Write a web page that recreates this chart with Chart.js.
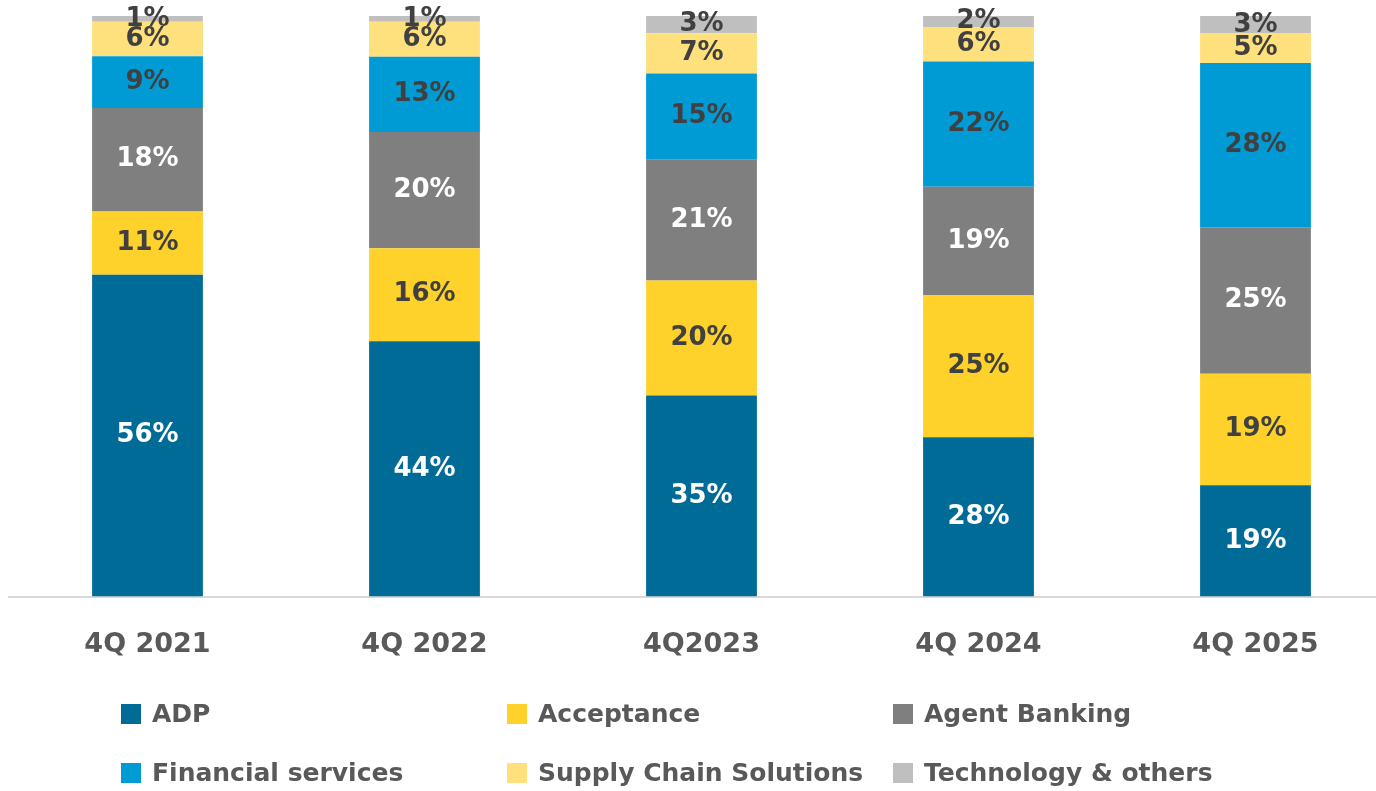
<!DOCTYPE html>
<html>
<head>
<meta charset="utf-8">
<script src="https://cdn.jsdelivr.net/npm/chart.js@4.4.1/dist/chart.umd.min.js"></script>
<style>
    body { margin: 0; overflow: hidden; background: #fff; }
</style>
</head>
<body>
<canvas id="mixChart" width="1400" height="791"></canvas>
<script>
const quarters = ["4Q 2021", "4Q 2022", "4Q2023", "4Q 2024", "4Q 2025"];

const adp = [56, 44, 35, 28, 19];
const acceptance = [11, 16, 20, 25, 19];
const agentBanking = [18, 20, 21, 19, 25];
const financialServices = [9, 13, 15, 22, 28];
const supplyChain = [6, 6, 7, 6, 5];
const technology = [1, 1, 3, 2, 3];

const seriesNames = ["ADP", "Acceptance", "Agent Banking", "Financial services", "Supply Chain Solutions", "Technology & others"];
const seriesValues = [adp, acceptance, agentBanking, financialServices, supplyChain, technology];
const seriesColors = ["#006b96", "#fed22b", "#7f7f7f", "#009bd5", "#fee17c", "#bfbfbf"];
const labelColors = ["#ffffff", "#404040", "#ffffff", "#404040", "#404040", "#404040"];

// each column is shown as 100% of its own total
const totals = quarters.map((q, i) => seriesValues.reduce((s, arr) => s + arr[i], 0));

const datasets = seriesNames.map((name, k) => ({
    label: name,
    data: seriesValues[k].map((v, i) => v / totals[i] * 100),
    raw: seriesValues[k],
    backgroundColor: seriesColors[k],
    textColor: labelColors[k],
    borderWidth: 0,
    barPercentage: 0.4,
    categoryPercentage: 1,
}));

const valueLabels = {
    id: "valueLabels",
    afterDatasetsDraw(chart) {
        const ctx = chart.ctx;
        ctx.save();
        ctx.font = "bold 26px 'DejaVu Sans'";
        ctx.textAlign = "center";
        ctx.textBaseline = "middle";
        chart.data.datasets.forEach((ds, k) => {
            chart.getDatasetMeta(k).data.forEach((bar, i) => {
                const p = bar.getCenterPoint();
                ctx.fillStyle = ds.textColor;
                ctx.fillText(ds.raw[i] + "%", p.x, p.y);
            });
        });
        ctx.restore();
    }
};

const gridLegend = {
    id: "gridLegend",
    afterDraw(chart) {
        const ctx = chart.ctx;
        const colX = [121, 507, 893];
        const rowY = [714, 773];
        ctx.save();
        ctx.font = "bold 25px 'DejaVu Sans'";
        ctx.textBaseline = "middle";
        chart.data.datasets.forEach((ds, k) => {
            const x = colX[k % 3];
            const y = rowY[Math.floor(k / 3)];
            ctx.fillStyle = ds.backgroundColor;
            ctx.fillRect(x, y - 10, 20, 20);
            ctx.fillStyle = "#595959";
            ctx.fillText(ds.label, x + 31, y + 1);
        });
        ctx.restore();
    }
};

new Chart(document.getElementById("mixChart"), {
    type: "bar",
    data: { labels: quarters, datasets },
    options: {
        responsive: false,
        animation: false,
        devicePixelRatio: 1,
        layout: { padding: { left: 9, right: 6, top: 16, bottom: 106 } },
        plugins: {
            legend: { display: false },
            tooltip: { enabled: false },
        },
        scales: {
            x: {
                stacked: true,
                grid: { display: false },
                border: { display: true, color: "#d9d9d9", width: 2 },
                ticks: {
                    color: "#595959",
                    padding: 24,
                    font: { family: "'DejaVu Sans'", size: 27, weight: "bold" },
                },
            },
            y: {
                stacked: true,
                display: false,
                min: 0,
                max: 100,
            },
        },
    },
    plugins: [valueLabels, gridLegend],
});
</script>
</body>
</html>
